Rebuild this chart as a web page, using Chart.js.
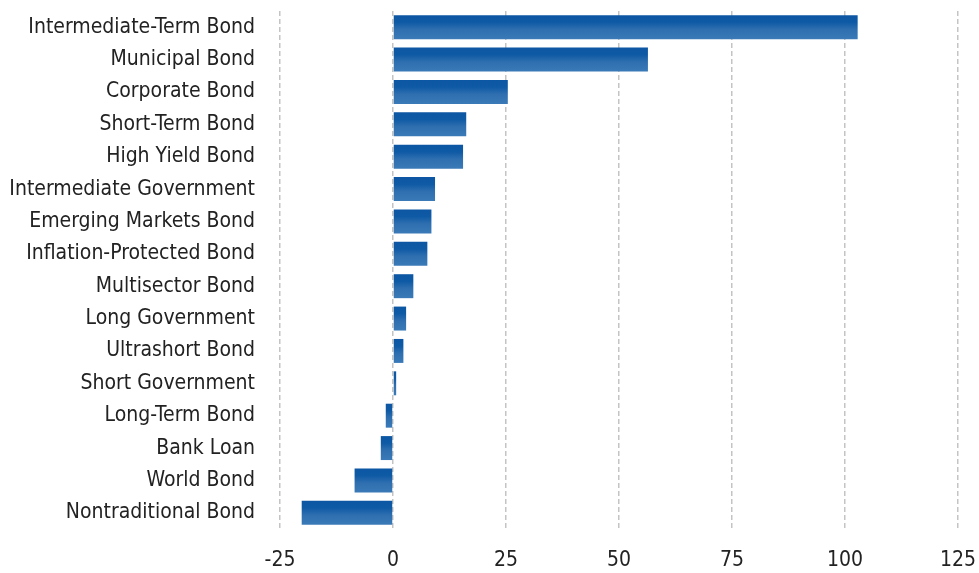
<!DOCTYPE html>
<html>
<head>
<meta charset="utf-8">
<script src="https://cdn.jsdelivr.net/npm/chart.js@4/dist/chart.umd.min.js"></script>
<style>
  html, body { margin: 0; padding: 0; background: #fff; }
  #wrap { width: 979px; height: 573px; }
</style>
</head>
<body>
<div id="wrap"><canvas id="chart" width="979" height="573"></canvas></div>
<script>
// categories, top to bottom
const categories = [
    'Intermediate-Term Bond', 'Municipal Bond', 'Corporate Bond', 'Short-Term Bond',
    'High Yield Bond', 'Intermediate Government', 'Emerging Markets Bond',
    'Inflation-Protected Bond', 'Multisector Bond', 'Long Government', 'Ultrashort Bond',
    'Short Government', 'Long-Term Bond', 'Bank Loan', 'World Bond', 'Nontraditional Bond'
];
// values
const flows = [102.8, 56.4, 25.4, 16.2, 15.5, 9.3, 8.5, 7.6, 4.5, 2.9, 2.3, 0.7, -1.6, -2.7, -8.5, -20.2];
const xTicks = [-25, 0, 25, 50, 75, 100, 125];

const labelFont = { family: "'Liberation Sans Narrow', 'DejaVu Sans Condensed', sans-serif", size: 21 };

// vertical gradient on each bar, dark on top, lighter below
const barGradient = {
    id: 'barGradient',
    beforeDatasetsDraw(chart) {
        const ctx = chart.ctx;
        chart.getDatasetMeta(0).data.forEach(bar => {
            const top = bar.y - bar.height / 2;
            const g = ctx.createLinearGradient(0, top, 0, top + bar.height);
            g.addColorStop(0, '#0c56a3');
            g.addColorStop(0.3, '#0f5aa5');
            g.addColorStop(0.6, '#2f6fb0');
            g.addColorStop(1, '#3b7ab7');
            // options are shared between bars, so give each its own copy
            bar.options = Object.assign({}, bar.options, { backgroundColor: g });
        });
    }
};

new Chart(document.getElementById('chart'), {
    type: 'bar',
    data: {
        labels: categories,
        datasets: [{
            data: flows,
            backgroundColor: '#1a60a8',
            borderWidth: 0,
            barPercentage: 0.74,
            categoryPercentage: 1
        }]
    },
    options: {
        indexAxis: 'y',
        responsive: false,
        animation: false,
        layout: { padding: { top: 11, right: 21, left: 0, bottom: 0 } },
        plugins: { legend: { display: false }, tooltip: { enabled: false } },
        scales: {
            x: {
                min: -25,
                max: 125,
                afterBuildTicks: s => { s.ticks = xTicks.map(v => ({ value: v })); },
                afterFit: s => { s.height = 44; s.paddingLeft = 0; s.paddingRight = 0; },
                grid: { color: '#c4c4c4', lineWidth: 1.5, drawTicks: false },
                border: { display: false, dash: [5, 3] },
                ticks: { color: '#222', font: labelFont, padding: 19, maxRotation: 0 }
            },
            y: {
                afterFit: s => { s.width = 280; s.paddingTop = 0; s.paddingBottom = 0; },
                grid: { display: false, drawTicks: false },
                border: { display: false },
                ticks: { color: '#222', font: labelFont, padding: 25, autoSkip: false }
            }
        }
    },
    plugins: [barGradient]
});
</script>
</body>
</html>
